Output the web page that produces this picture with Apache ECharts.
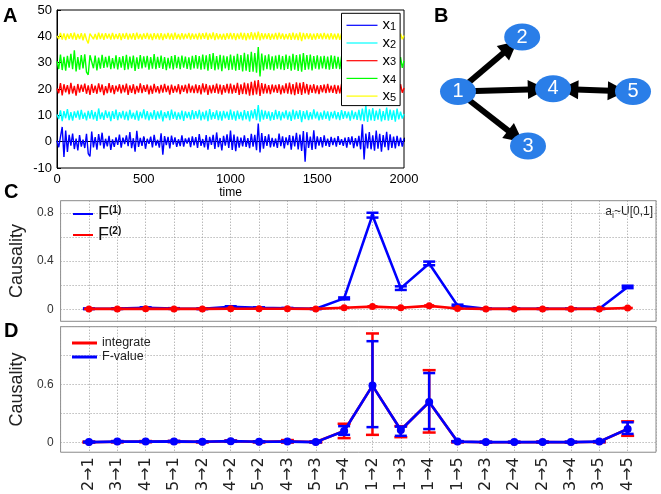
<!DOCTYPE html>
<html><head><meta charset="utf-8">
<script src="https://cdn.jsdelivr.net/npm/echarts@6.0.0/dist/echarts.min.js"></script>
<style>html,body{margin:0;padding:0;background:#fff}#c{width:661px;height:494px}</style>
</head><body><div id="c"></div>
<script>
// ---------- Panel A: time series (deviation around each trace's offset), sampled every 10 time units ----------
const sampleStep = 10;
const traceNames = ['x1','x2','x3','x4','x5'];
const traceOffsets = [0, 10, 20, 30, 40];
const x1Dev = [
 0.4,-2.1,1.8,5.6,-5.8,4.2,-3.9,2.6,-1.5,3.1,-2.8,1.2,-3.3,2.5,-1.9,0.8,-2.4,3.0,-4.5,-5.6,
 3.8,-2.2,1.7,-3.0,2.9,-1.4,3.4,-2.6,1.1,-1.8,2.2,-3.1,0.9,-2.0,1.6,-1.2,2.7,-2.3,1.5,-0.9,
 2.4,-1.7,3.6,-2.5,1.3,-3.8,4.1,-2.0,1.4,-1.6,2.0,-2.7,1.1,-0.8,1.9,-2.2,2.6,-1.5,0.7,-2.3,
 3.2,-4.9,2.1,-1.3,1.8,-2.6,2.3,-1.1,1.6,-2.0,0.9,-1.7,2.4,-1.9,1.2,-0.7,1.5,-2.1,2.0,-1.4,
 1.7,-2.4,2.9,-1.6,1.0,-2.2,2.5,-3.0,1.8,-1.2,2.6,-2.8,3.5,-2.1,1.4,-3.3,2.2,-1.5,2.8,-2.4,
 4.2,-3.1,2.7,-3.6,1.9,-2.3,1.5,-1.8,2.4,-2.0,1.3,-2.5,3.0,-1.9,2.6,-3.2,6.9,-4.1,3.3,-2.7,
 2.1,-1.6,2.8,-2.2,1.4,-1.9,1.2,-2.4,3.1,-1.7,2.0,-2.6,1.6,-1.3,2.5,-3.0,2.2,-1.8,3.4,-2.9,
 2.7,-3.5,4.0,-7.6,3.6,-2.4,1.9,-3.1,4.3,-2.8,2.0,-1.5,1.7,-2.2,2.4,-1.6,1.1,-2.0,1.8,-1.3,
 1.4,-1.9,2.1,-1.2,0.9,-1.6,1.5,-2.3,1.7,-1.1,2.0,-2.5,1.3,-1.8,2.2,-2.9,6.6,-6.8,3.1,-2.6,
 3.6,-2.9,2.4,-3.4,4.2,-2.7,3.0,-3.8,2.5,-2.1,3.7,-3.2,2.8,-2.4,1.9,-2.6,2.2,-1.7,1.5,-1.9,
 1.2];
const x2Dev = [
 0.3,-1.4,1.9,-2.2,1.6,-1.1,2.4,-1.8,1.2,-2.0,1.5,-0.9,1.8,-1.6,2.1,-1.3,1.0,-1.9,1.7,-1.2,
 2.0,-1.5,1.3,-2.1,2.6,-1.4,1.1,-1.7,1.9,-1.0,1.4,-2.2,1.6,-1.3,2.2,-1.8,1.2,-1.1,1.7,-1.6,
 1.4,-1.9,2.1,-1.2,1.0,-1.6,1.8,-2.0,1.3,-1.1,2.3,-1.5,1.6,-1.9,1.1,-1.4,2.0,-1.7,1.5,-1.2,
 1.9,-2.3,1.2,-1.0,1.6,-1.8,2.2,-1.3,1.4,-1.7,1.1,-1.5,1.8,-2.1,1.5,-1.0,1.3,-1.6,2.0,-1.4,
 1.6,-1.2,2.1,-1.9,1.3,-1.5,1.8,-2.2,2.4,-1.6,1.2,-1.3,1.9,-1.8,1.5,-2.0,1.7,-1.1,1.4,-1.7,
 2.2,-1.6,1.5,-2.0,1.8,-1.4,1.3,-1.9,2.0,-1.5,1.6,-2.3,1.9,-1.2,2.4,-1.8,3.9,-2.4,2.1,-1.6,
 1.8,-1.3,1.5,-2.0,1.2,-1.7,2.1,-1.4,1.6,-1.9,1.3,-1.1,1.9,-1.6,1.4,-2.1,2.2,-1.5,1.7,-1.3,
 2.0,-2.6,1.6,-1.4,1.9,-1.8,1.2,-1.5,2.3,-1.2,1.4,-1.9,1.1,-1.6,1.8,-1.3,1.5,-2.0,1.3,-1.1,
 1.7,-1.5,1.2,-1.8,2.0,-1.3,1.6,-1.1,1.4,-2.0,1.9,-1.4,1.3,-1.7,2.1,-1.9,2.6,-2.2,3.8,-2.5,
 2.3,-1.9,2.7,-2.1,1.8,-1.6,2.5,-2.3,1.6,-1.8,2.9,-2.0,2.2,-1.7,1.9,-2.4,2.6,-1.5,1.4,-1.2,
 0.5];
const x3Dev = [
 0.2,-1.6,2.2,-2.4,1.8,-1.3,1.5,-2.0,2.3,-1.7,1.2,-2.5,1.9,-1.4,1.6,-1.1,2.0,-1.8,1.4,-2.2,
 1.9,-1.5,1.3,-1.8,2.1,-1.2,1.7,-2.3,1.1,-1.6,2.2,-1.4,1.5,-1.9,1.3,-1.0,1.8,-1.7,1.6,-1.3,
 2.0,-2.2,1.4,-1.5,1.8,-1.9,1.2,-1.4,2.1,-1.6,1.5,-1.1,1.7,-2.0,1.3,-1.8,1.9,-1.3,1.1,-1.7,
 1.6,-1.4,1.9,-1.2,1.3,-2.1,1.7,-1.5,1.2,-1.3,1.8,-1.9,1.4,-1.1,1.6,-1.7,2.0,-1.4,1.3,-1.6,
 1.8,-1.6,1.5,-2.0,2.1,-1.3,1.9,-2.2,1.4,-1.7,1.6,-1.5,2.0,-1.8,1.7,-2.1,1.5,-1.4,1.9,-1.7,
 2.0,-1.8,1.6,-1.5,2.3,-2.2,1.8,-1.9,2.4,-2.0,2.1,-2.5,2.7,-2.3,3.2,-2.1,3.4,-2.6,2.2,-1.8,
 1.9,-1.7,1.5,-1.9,1.7,-1.3,1.6,-1.5,1.8,-2.0,1.4,-1.6,2.1,-1.8,2.4,-2.0,1.9,-2.3,2.5,-1.9,
 2.3,-2.2,2.6,-1.7,1.9,-2.1,1.6,-1.5,1.8,-1.7,1.4,-1.9,1.5,-1.3,1.7,-1.6,1.9,-1.4,1.3,-1.5,
 1.6,-1.8,1.4,-1.7,1.9,-1.5,1.8,-2.0,2.2,-1.7,1.6,-2.2,2.4,-1.9,2.1,-2.6,2.7,-2.4,2.0,-1.8,
 2.2,-1.9,2.4,-2.1,1.8,-1.6,2.0,-2.3,1.7,-1.5,2.1,-1.8,1.6,-1.9,2.2,-1.7,1.5,-1.6,1.8,-1.4,
 0.4];
const x4Dev = [
 0.5,-2.4,3.1,-2.8,2.2,-3.0,2.6,-1.9,3.4,-2.5,4.7,-3.3,2.1,-2.7,2.9,-2.2,3.2,-3.6,-4.6,2.8,
 2.4,-2.1,2.7,-2.9,1.9,-2.3,3.0,-2.0,2.2,-1.8,2.6,-2.5,1.7,-2.2,2.8,-2.6,2.1,-1.9,2.5,-2.8,
 3.0,-2.6,2.3,-2.1,2.7,-3.1,2.0,-2.4,2.9,-2.2,2.4,-1.8,2.6,-2.7,2.1,-2.3,3.3,-2.5,2.2,-2.0,
 2.7,-2.4,2.1,-2.8,1.8,-2.2,2.5,-2.6,2.9,-2.1,2.2,-2.5,2.7,-1.9,2.3,-2.4,2.0,-2.7,2.6,-2.2,
 2.9,-2.3,2.5,-2.7,3.1,-2.5,2.8,-3.0,3.3,-2.4,3.6,-2.9,2.5,-2.6,3.0,-3.2,2.7,-2.2,2.4,-2.8,
 3.1,-2.7,2.6,-3.0,3.4,-2.8,2.9,-3.3,3.7,-3.0,3.2,-3.5,4.1,-3.4,3.6,-3.8,5.9,-5.2,3.5,-2.9,
 2.8,-2.5,3.2,-2.7,2.4,-2.9,2.7,-2.3,3.0,-2.6,2.5,-2.8,3.1,-2.4,2.6,-3.0,3.4,-2.7,2.9,-3.1,
 3.2,-3.4,3.6,-2.8,2.9,-2.6,3.1,-2.9,2.5,-2.3,2.8,-2.6,2.4,-2.2,2.6,-2.5,2.3,-2.7,2.8,-2.4,
 2.6,-2.3,2.2,-2.5,2.4,-2.1,2.7,-2.6,2.3,-2.4,2.5,-2.8,2.9,-2.5,2.7,-3.0,3.2,-2.9,2.6,-2.7,
 2.8,-2.5,3.0,-2.7,2.6,-2.9,3.1,-2.6,2.4,-2.2,2.7,-2.8,2.5,-2.3,2.9,-2.4,2.2,-2.6,2.1,-2.0,
 0.7];
const x5Dev = [
 0.2,-1.0,1.3,-1.2,1.1,-1.4,1.0,-0.9,1.2,-1.1,1.4,-1.3,0.9,-1.0,1.2,-1.5,1.1,-1.2,-2.7,1.0,
 1.3,-1.1,0.9,-1.2,1.4,-1.0,1.1,-1.3,1.2,-0.8,1.0,-1.2,1.3,-1.1,0.9,-1.0,1.2,-1.4,1.1,-0.9,
 1.3,-1.2,1.0,-1.1,1.2,-1.3,1.4,-1.0,0.9,-1.2,1.1,-0.9,1.3,-1.1,1.0,-1.4,1.2,-1.0,1.1,-1.2,
 1.2,-1.4,1.0,-0.9,1.3,-1.1,1.1,-1.3,1.4,-1.0,0.9,-1.2,1.2,-1.1,1.0,-0.8,1.3,-1.2,1.1,-1.0,
 1.0,-1.2,1.3,-1.1,1.2,-0.9,1.4,-1.3,1.1,-1.0,1.5,-1.4,1.2,-1.1,0.9,-1.2,1.0,-1.3,1.2,-1.0,
 1.3,-1.1,1.2,-1.4,1.1,-1.0,1.4,-1.2,1.3,-1.5,1.2,-1.1,1.6,-1.3,1.4,-1.2,1.8,-1.5,1.2,-1.1,
 1.1,-1.0,1.2,-1.3,1.0,-1.1,1.3,-1.2,1.4,-1.0,1.1,-1.2,0.9,-1.1,1.2,-1.3,1.4,-1.2,1.1,-1.4,
 1.5,-1.8,1.3,-1.1,1.2,-1.0,1.1,-1.3,1.0,-1.2,1.2,-0.9,1.1,-1.1,1.3,-1.0,1.0,-1.2,1.2,-1.1,
 1.0,-1.2,1.1,-1.3,1.2,-1.1,0.9,-1.0,1.3,-1.2,1.1,-1.4,1.2,-1.0,1.0,-1.3,1.4,-1.2,1.1,-1.0,
 1.2,-1.3,1.4,-1.1,1.3,-1.2,1.1,-1.0,1.3,-1.2,1.0,-1.1,1.2,-1.3,1.1,-1.0,1.2,-0.9,1.0,-1.1,
 0.3];
const traceDevs = [x1Dev, x2Dev, x3Dev, x4Dev, x5Dev];

// ---------- Panel B: network ----------
const nodeNames = ['1','2','3','4','5'];
const nodeX = [0, 1.1, 1.2, 1.63, 3];
const nodeY = [0, 1, -1, 0.05, 0];
const edgeSources = ['1','1','1','4'];
const edgeTargets = ['2','4','3','5'];
const edgeBidirectional = [false, false, false, true];

// ---------- Panels C & D: causality ----------
const pairs = ['2→1','3→1','4→1','5→1','3→2','4→2','5→2','4→3','5→3','5→4','1→2','1→3','1→4','1→5','2→3','2→4','2→5','3→4','3→5','4→5'];
// C
const F1Mean = [0.004,0.005,0.012,0.006,0.004,0.02,0.012,0.008,0.004,0.09,0.78,0.175,0.38,0.03,0.004,0.004,0.004,0.004,0.004,0.185];
const F1Err  = [0.003,0.003,0.004,0.003,0.003,0.005,0.004,0.003,0.003,0.008,0.02,0.015,0.015,0.008,0.002,0.002,0.002,0.002,0.002,0.01];
const F2Mean = [0.003,0.003,0.004,0.003,0.003,0.004,0.004,0.004,0.003,0.012,0.022,0.012,0.028,0.006,0.003,0.003,0.003,0.003,0.003,0.01];
const F2Err  = [0.002,0.002,0.002,0.002,0.002,0.002,0.002,0.002,0.002,0.003,0.005,0.003,0.006,0.002,0.002,0.002,0.002,0.002,0.002,0.003];
// D
const intMean = [0.004,0.008,0.01,0.01,0.007,0.014,0.007,0.012,0.006,0.12,0.59,0.13,0.42,0.008,0.004,0.004,0.005,0.004,0.008,0.14];
const intLow  = [0.0,0.002,0.004,0.005,0.002,0.008,0.002,0.0,0.0,0.046,0.08,0.056,0.104,0.002,0.0,0.0,0.0,0.0,0.002,0.07];
const intHigh = [0.01,0.015,0.016,0.017,0.013,0.022,0.013,0.026,0.012,0.195,1.13,0.17,0.75,0.014,0.008,0.008,0.01,0.008,0.014,0.22];
const fvMean  = [0.005,0.01,0.01,0.012,0.008,0.015,0.008,0.01,0.005,0.12,0.59,0.13,0.42,0.01,0.005,0.005,0.006,0.005,0.01,0.14];
const fvLow   = [0.002,0.005,0.006,0.007,0.004,0.01,0.004,0.005,0.002,0.08,0.16,0.07,0.14,0.005,0.002,0.002,0.003,0.002,0.005,0.09];
const fvHigh  = [0.009,0.015,0.014,0.017,0.012,0.02,0.012,0.015,0.009,0.17,1.05,0.165,0.72,0.015,0.009,0.009,0.01,0.009,0.015,0.21];

const FONT = '"Liberation Sans", Arial, sans-serif';
const chart = echarts.init(document.getElementById('c'), null, {renderer:'canvas'});

const traceColors = ['#0000ff','#00ffff','#ff0000','#00ff00','#ffff00'];

function errorBars(axisIdx, means, lows, highs, color, capW, lw, z) {
  return {
    type:'custom', xAxisIndex:axisIdx, yAxisIndex:axisIdx, z:z, silent:true,
    data: means.map((m,i)=>[i+1, lows[i], highs[i]]),
    renderItem(params, api) {
      const x = api.value(0);
      const p1 = api.coord([x, api.value(1)]);
      const p2 = api.coord([x, api.value(2)]);
      const h = capW/2;
      const st = {stroke:color, lineWidth:lw};
      return {type:'group', children:[
        {type:'line', shape:{x1:p1[0],y1:p1[1],x2:p2[0],y2:p2[1]}, style:st},
        {type:'line', shape:{x1:p1[0]-h,y1:p1[1],x2:p1[0]+h,y2:p1[1]}, style:st},
        {type:'line', shape:{x1:p2[0]-h,y1:p2[1],x2:p2[0]+h,y2:p2[1]}, style:st}
      ]};
    }
  };
}

const dotted = [1,2];
const clear = 'rgba(0,0,0,0)';
function cdXAxis(gi, showLabels) {
  return {
    type:'value', gridIndex:gi, min:0, max:pairs.length+1, interval:1,
    axisLine:{show:false}, axisTick:{show:false},
    splitLine:{show:true, lineStyle:{color:'#9a9a9a', type:dotted, width:1}},
    axisLabel:{show:showLabels, rotate:90, margin:5, fontSize:16, color:'#222', fontFamily:'"DejaVu Sans", sans-serif',
      formatter: v => (v>=1 && v<=pairs.length) ? pairs[v-1] : ''}
  };
}
function cdYAxis(gi, min, max, showVals, colorCycle) {
  return {
    type:'value', gridIndex:gi, min:min, max:max, interval:0.1,
    name:'Causality', nameLocation:'middle', nameGap:31,
    nameTextStyle:{fontSize:18, color:'#222', fontFamily:FONT},
    axisLine:{show:false}, axisTick:{show:false},
    splitLine:{show:true, lineStyle:{color:colorCycle, type:dotted, width:1}},
    axisLabel:{margin:7, fontSize:12, color:'#333', fontFamily:FONT,
      formatter: v => { const r = Math.round(v*10)/10; return showVals.includes(r) ? String(r) : ''; }}
  };
}

const series = [];
traceDevs.forEach((dev, k) => {
  series.push({
    name: traceNames[k], type:'line', xAxisIndex:0, yAxisIndex:0,
    data: dev.map((d,i)=>[i*sampleStep, traceOffsets[k]+d]),
    symbol:'none', lineStyle:{color:traceColors[k], width:1.4}, itemStyle:{color:traceColors[k]},
    animation:false, z:2
  });
});
series.push({
  type:'graph', coordinateSystem:'cartesian2d', xAxisIndex:1, yAxisIndex:1,
  data: nodeNames.map((n,i)=>({name:n, value:[nodeX[i], nodeY[i]]})),
  links: edgeSources.map((s,i)=>({source:s, target:edgeTargets[i],
    symbol: edgeBidirectional[i] ? ['triangle','triangle'] : ['none','triangle']})),
  symbol:'circle', symbolSize:[36,27],
  edgeSymbolSize:[19,19],
  itemStyle:{color:'#2a7ee8'},
  label:{show:true, position:'inside', color:'#fff', fontSize:20, fontFamily:FONT},
  lineStyle:{color:'#000', width:6, opacity:1},
  animation:false, silent:true
});
series.push(errorBars(2, F1Mean, F1Mean.map((m,i)=>m-F1Err[i]), F1Mean.map((m,i)=>m+F1Err[i]), '#0000ff', 12, 2.5, 3));
series.push({name:'F1', type:'line', xAxisIndex:2, yAxisIndex:2, data:F1Mean.map((m,i)=>[i+1,m]),
  symbol:'circle', symbolSize:4, lineStyle:{color:'#0000ff', width:2.6}, itemStyle:{color:'#0000ff'}, z:4, animation:false});
series.push(errorBars(2, F2Mean, F2Mean.map((m,i)=>m-F2Err[i]), F2Mean.map((m,i)=>m+F2Err[i]), '#ff0000', 10, 2, 5));
series.push({name:'F2', type:'line', xAxisIndex:2, yAxisIndex:2, data:F2Mean.map((m,i)=>[i+1,m]),
  symbol:'circle', symbolSize:7, lineStyle:{color:'#ff0000', width:2.6}, itemStyle:{color:'#ff0000'}, z:6, animation:false});
series.push(errorBars(3, intMean, intLow, intHigh, '#ff0000', 13, 2.5, 3));
series.push({name:'integrate', type:'line', xAxisIndex:3, yAxisIndex:3, data:intMean.map((m,i)=>[i+1,m]),
  symbol:'circle', symbolSize:7, lineStyle:{color:'#ff0000', width:2.6}, itemStyle:{color:'#ff0000'}, z:4, animation:false});
series.push(errorBars(3, fvMean, fvLow, fvHigh, '#0000ff', 12, 2.5, 5));
series.push({name:'F-value', type:'line', xAxisIndex:3, yAxisIndex:3, data:fvMean.map((m,i)=>[i+1,m]),
  symbol:'circle', symbolSize:8, lineStyle:{color:'#0000ff', width:2.6}, itemStyle:{color:'#0000ff'}, z:6, animation:false});

const panelLabel = (t, x, y) => ({type:'text', left:x, top:y, style:{text:t, fontSize:20, fontWeight:'bold', fill:'#000', fontFamily:FONT}});

const option = {
  animation:false,
  backgroundColor:'#fff',
  grid:[
    {left:57, top:10, width:347, height:158, show:true, borderColor:'#000', borderWidth:1, backgroundColor:'#fff'},
    {left:458, top:37, width:175, height:109, show:false},
    {left:54.5, top:200.7, width:601.5, height:120.6, show:true, borderColor:'#8a8a8a', borderWidth:1},
    {left:54.5, top:326.7, width:601.5, height:126, show:true, borderColor:'#8a8a8a', borderWidth:1}
  ],
  xAxis:[
    {type:'value', gridIndex:0, min:0, max:2000, interval:500, name:'time', nameLocation:'middle', nameGap:15,
     nameTextStyle:{fontSize:12, color:'#000', fontFamily:FONT},
     axisLine:{lineStyle:{color:'#000'}}, axisTick:{inside:true, length:4, lineStyle:{color:'#000'}},
     splitLine:{show:false}, axisLabel:{fontSize:13, color:'#000', margin:5, fontFamily:FONT, formatter: v => String(v)}},
    {type:'value', gridIndex:1, min:0, max:3, show:false},
    cdXAxis(2, false),
    cdXAxis(3, true)
  ],
  yAxis:[
    {type:'value', gridIndex:0, min:-10, max:50, interval:10,
     axisLine:{lineStyle:{color:'#000'}}, axisTick:{inside:true, length:4, lineStyle:{color:'#000'}},
     splitLine:{show:false}, axisLabel:{fontSize:13, color:'#000', margin:5, fontFamily:FONT, formatter: v => String(v)}},
    {type:'value', gridIndex:1, min:-1, max:1, show:false},
    cdYAxis(2, -0.1, 0.9, [0, 0.4, 0.8], [clear, '#9a9a9a']),
    cdYAxis(3, -0.1, 1.2, [0, 0.6], [clear, '#9a9a9a', clear])
  ],
  legend:[
    {data:traceNames, orient:'vertical', left:341.5, top:13.3, padding:[3,4,2,5], itemGap:1.2,
     itemWidth:31, itemHeight:14, borderColor:'#000', borderWidth:1, backgroundColor:'#fff', z:10,
     icon:'path://M0,6.4 L31,6.4 L31,7.6 L0,7.6 Z',
     formatter: n => 'x{s|' + n.slice(1) + '}',
     textStyle:{fontSize:15, color:'#000', fontFamily:FONT, lineHeight:14,
       rich:{s:{fontSize:11, verticalAlign:'bottom', lineHeight:14, padding:[5,0,0,0]}}}},
    {data:['F1','F2'], orient:'vertical', left:68, top:200, itemGap:3, itemWidth:20, itemHeight:18,
     icon:'path://M0,8 L20,8 L20,10 L0,10 Z',
     formatter: n => 'F{s|(' + n.slice(1) + ')}',
     textStyle:{fontSize:18, color:'#111', fontFamily:FONT,
       rich:{s:{fontSize:10, fontWeight:'bold', color:'#111', padding:[0,0,8,0]}}}},
    {data:['integrate','F-value'], orient:'vertical', left:67, top:331.5, itemGap:1, itemWidth:25, itemHeight:13,
     icon:'path://M0,5 L25,5 L25,8 L0,8 Z',
     textStyle:{fontSize:12.5, color:'#222', fontFamily:FONT}}
  ],
  graphic:[
    panelLabel('A', 3, 6),
    panelLabel('B', 434, 6),
    panelLabel('C', 4, 182),
    panelLabel('D', 4, 321),
    {type:'text', right:8, top:206, style:{text:'a{s|i}~U[0,1]', fontSize:12, fill:'#222', fontFamily:FONT,
      rich:{s:{fontSize:9, padding:[8,0,0,0]}}}}
  ],
  series: series
};
chart.setOption(option);
</script></body></html>
